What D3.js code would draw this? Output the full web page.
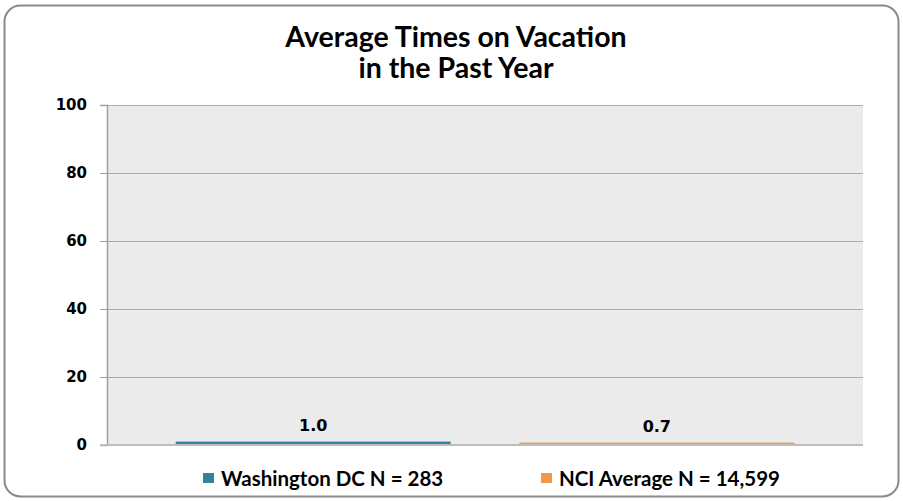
<!DOCTYPE html>
<html>
<head>
<meta charset="utf-8">
<script src="https://cdn.jsdelivr.net/npm/d3@7"></script>
<style>
  html, body { margin: 0; padding: 0; background: #ffffff; }
  svg { display: block; }
</style>
</head>
<body>
<div id="chart"></div>
<script>
// Chart content
const titleLines = ["Average Times on Vacation", "in the Past Year"];
const seriesNames = ["Washington DC N = 283", "NCI Average N = 14,599"];
const seriesValues = [1.0, 0.7];
const seriesColors = ["#31849B", "#F79646"];
const yTicks = [0, 20, 40, 60, 80, 100];

const width = 903, height = 501;
const plot = { left: 107, right: 863, top: 105, bottom: 445 };

const svg = d3.select("#chart").append("svg")
  .attr("width", width)
  .attr("height", height);

// Rounded chart frame
svg.append("rect")
  .attr("x", 4.5).attr("y", 5.5)
  .attr("width", 894).attr("height", 491)
  .attr("rx", 16).attr("ry", 16)
  .attr("fill", "#ffffff")
  .attr("stroke", "#8a8a8a")
  .attr("stroke-width", 2);

// Title
const title = svg.append("text")
  .attr("text-anchor", "middle")
  .attr("font-family", "Lato, 'Open Sans', sans-serif")
  .attr("font-weight", "bold")
  .attr("font-size", 28.5)
  .attr("fill", "#000");
titleLines.forEach((line, i) => {
  title.append("tspan")
    .attr("x", 456)
    .attr("y", 47 + i * 31)
    .text(line);
});

const y = d3.scaleLinear().domain([0, 100]).range([plot.bottom, plot.top]);
const x = d3.scaleBand()
  .domain(seriesNames)
  .range([plot.left, plot.right])
  .paddingInner(0.2)
  .paddingOuter(0.2);

// Plot background
svg.append("rect")
  .attr("x", plot.left).attr("y", plot.top)
  .attr("width", plot.right - plot.left)
  .attr("height", plot.bottom - plot.top)
  .attr("fill", "#EBEBEB");

// Horizontal gridlines
svg.append("g")
  .selectAll("line")
  .data(yTicks.filter(d => d > 0))
  .join("line")
  .attr("x1", plot.left).attr("x2", plot.right)
  .attr("y1", d => Math.round(y(d)) + 0.5)
  .attr("y2", d => Math.round(y(d)) + 0.5)
  .attr("stroke", "#aeaeae")
  .attr("stroke-width", 1);

// Y axis
const yAxis = svg.append("g")
  .attr("transform", `translate(${plot.left},0)`)
  .call(d3.axisLeft(y).tickValues(yTicks).tickSize(7).tickPadding(13).tickFormat(d3.format("d")));
yAxis.select(".domain").attr("stroke", "#a0a0a0").attr("stroke-width", 1.5);
yAxis.selectAll(".tick line").attr("stroke", "#a0a0a0");
yAxis.selectAll(".tick text")
  .attr("font-family", "'DejaVu Sans', Verdana, sans-serif")
  .attr("font-weight", "bold")
  .attr("font-size", 15)
  .attr("fill", "#000");

// Bars
svg.append("g")
  .selectAll("rect")
  .data(seriesValues)
  .join("rect")
  .attr("x", (d, i) => x(seriesNames[i]))
  .attr("width", x.bandwidth())
  .attr("y", d => y(d))
  .attr("height", d => y(0) - y(d))
  .attr("fill", (d, i) => seriesColors[i]);

// Baseline axis
svg.append("line")
  .attr("x1", plot.left - 7).attr("x2", plot.right)
  .attr("y1", y(0)).attr("y2", y(0))
  .attr("stroke", "#bdbdbd")
  .attr("stroke-width", 2);

// Value labels
svg.append("g")
  .selectAll("text")
  .data(seriesValues)
  .join("text")
  .attr("x", (d, i) => x(seriesNames[i]) + x.bandwidth() / 2)
  .attr("y", d => y(d) - 11)
  .attr("text-anchor", "middle")
  .attr("font-family", "'DejaVu Sans', Verdana, sans-serif")
  .attr("font-weight", "bold")
  .attr("font-size", 16)
  .attr("fill", "#000")
  .text(d => d3.format(".1f")(d));

// Legend
const legendX = [203, 541];
const legend = svg.append("g")
  .selectAll("g")
  .data(seriesNames)
  .join("g")
  .attr("transform", (d, i) => `translate(${legendX[i]},0)`);
legend.append("rect")
  .attr("x", 0).attr("y", 473)
  .attr("width", 11).attr("height", 10)
  .attr("fill", (d, i) => seriesColors[i]);
legend.append("text")
  .attr("x", 18).attr("y", 485.5)
  .attr("font-family", "Lato, 'Open Sans', sans-serif")
  .attr("font-weight", "bold")
  .attr("font-size", 20.5)
  .attr("fill", "#000")
  .text(d => d);
</script>
</body>
</html>
